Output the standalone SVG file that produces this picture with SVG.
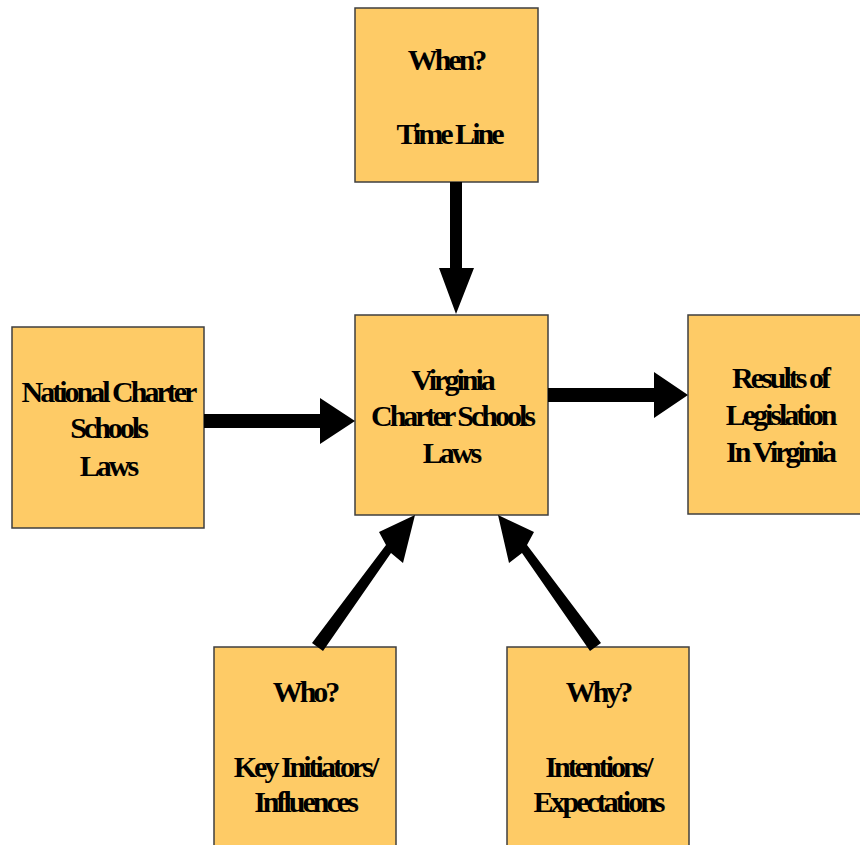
<svg xmlns="http://www.w3.org/2000/svg" width="860" height="845" viewBox="0 0 860 845">
<style>
.box{fill:#FECB66;stroke:#3F3F3F;stroke-width:1.5}
.c{fill:#000;stroke:none}
</style>
<rect width="860" height="845" fill="#fff"/>
<g font-family="Liberation Serif" font-weight="bold" font-size="30" letter-spacing="-3" fill="#000" text-anchor="middle">
<g id="when">
<rect class="box" x="355" y="8" width="183" height="174"/>
<text x="446" y="70">When?</text>
<text x="449" y="144">Time Line</text>
</g>
<g id="center">
<rect class="box" x="355" y="315" width="193" height="200"/>
<text x="452" y="390">Virginia</text>
<text x="452" y="426">Charter Schools</text>
<text x="451" y="463">Laws</text>
</g>
<g id="national">
<rect class="box" x="12" y="327" width="192" height="201"/>
<text x="108" y="402">National Charter</text>
<text x="108" y="438">Schools</text>
<text x="108" y="476">Laws</text>
</g>
<g id="results">
<rect class="box" x="688" y="315" width="180" height="199"/>
<text x="780" y="388">Results of</text>
<text x="780" y="425">Legislation</text>
<text x="780" y="462">In Virginia</text>
</g>
<g id="who">
<rect class="box" x="214" y="647" width="182" height="210"/>
<text x="305" y="702">Who?</text>
<text x="305" y="777">Key Initiators/</text>
<text x="305" y="812">Influences</text>
</g>
<g id="why">
<rect class="box" x="507" y="647" width="182" height="210"/>
<text x="598" y="702">Why?</text>
<text x="598" y="777">Intentions/</text>
<text x="598" y="812">Expectations</text>
</g>
</g>
<g id="connectors">
<polygon class="c" points="450,182 462,182 462,268 474,268 456,314 439,268 450,268"/>
<polygon class="c" points="204,414 320,414 320,398 355,421 320,444 320,428 204,428"/>
<polygon class="c" points="548,388 654,388 654,372 688,395 654,418 654,402 548,402"/>
<polygon class="c" points="312,643 323,651 391,553 403,563 415,515 379,532 386,545"/>
<polygon class="c" points="601,643 590,651 522,553 509,563 498,515 534,532 527,545"/>
</g>
</svg>
